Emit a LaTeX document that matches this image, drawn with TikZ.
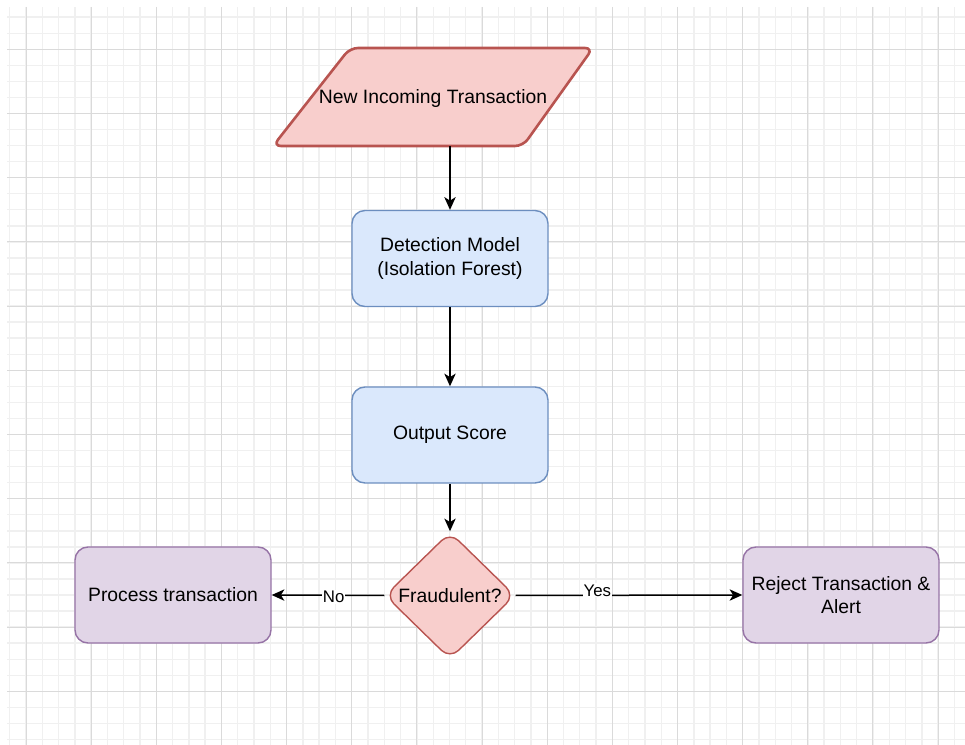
\documentclass[tikz,border=0pt]{standalone}
\usepackage{fontspec}
\setmainfont{Liberation Sans}
\usetikzlibrary{shapes.geometric,arrows.meta}

% one screen pixel
\newdimen\pxu \pxu=0.75pt

\definecolor{gridminor}{HTML}{F0F0F0}
\definecolor{gridmajor}{HTML}{DADADA}
\definecolor{redfill}{HTML}{F8CECC}
\definecolor{redline}{HTML}{B85450}
\definecolor{bluefill}{HTML}{DAE8FC}
\definecolor{blueline}{HTML}{6C8EBF}
\definecolor{purplefill}{HTML}{E1D5E7}
\definecolor{purpleline}{HTML}{9673A6}

\begin{document}
\begin{tikzpicture}[
  x=0.75pt, y=-0.75pt,
  every node/.style={font=\fontsize{14.5}{17.6}\selectfont, text=black},
  minorline/.style={draw=gridminor, line width=1.4\pxu},
  majorline/.style={draw=gridmajor, line width=1\pxu},
  databox/.style={fill=redfill, draw=redline, line width=2.6\pxu,
    rounded corners=8\pxu, line join=round},
  textonly/.style={shape=rectangle, inner sep=0pt,
    minimum width=243\pxu, minimum height=94\pxu},
  procbox/.style={shape=rectangle, minimum width=196\pxu, minimum height=96\pxu,
    inner sep=0pt, align=center, line width=1.4\pxu, rounded corners=13\pxu},
  bluebox/.style={procbox, fill=bluefill, draw=blueline},
  purplebox/.style={procbox, fill=purplefill, draw=purpleline},
  decision/.style={shape=diamond, minimum width=130\pxu, minimum height=127\pxu,
    inner sep=0pt, fill=redfill, draw=redline, line width=1.4\pxu,
    rounded corners=12\pxu},
  flow/.style={draw=black, line width=1.5\pxu,
    -{Stealth[length=9.5pt, width=8.5pt, inset=2.6pt]}},
  edgelabel/.style={font=\fontsize{12.6}{15}\selectfont, fill=white,
    inner sep=1\pxu}
]
\useasboundingbox (0,0) rectangle (965,745);

% background grid
\begin{scope}
  \clip (7,7) rectangle (965,745);
  \foreach \i in {-2,...,58}
    \draw[minorline] ({26+16.288*\i},7) -- ++(0,738);
  \foreach \j in {-3,...,44}
    \draw[minorline] (7,{49.3+16.05*\j}) -- ++(958,0);
  \foreach \i in {0,...,14}
    \draw[majorline] ({26+65.15*\i},7) -- ++(0,738);
  \foreach \j in {-1,...,11}
    \draw[majorline] (7,{49.3+64.2*\j}) -- ++(958,0);
\end{scope}

% input parallelogram
\draw[databox] (273,146) -- (350,48) -- (593,48) -- (523,146) -- cycle;
\node[textonly] (src) at (433,99) {New Incoming Transaction};

% flowchart nodes
\node[bluebox] (det) at (450,258.5) {Detection Model\\(Isolation Forest)};
\node[bluebox] (out) at (450,435) {Output Score};
\node[decision] (dec) at (450,595.5) {\makebox[0pt]{Fraudulent?}};
\node[purplebox] (proc) at (173,595) {Process transaction};
\node[purplebox] (rej) at (841,595) {Reject Transaction \&\\Alert};

% connectors
\draw[flow] (src.south -| det.north) -- (det.north);
\draw[flow] (det) -- (out);
\draw[flow] (out) -- (dec);
\draw[flow] (dec.west) -- node[edgelabel, pos=0.45, yshift=-2\pxu] {No} (proc.east);
\draw[flow] (dec.east) -- node[edgelabel, pos=0.36, yshift=5\pxu] {Yes} (rej.west);
\end{tikzpicture}
\end{document}
